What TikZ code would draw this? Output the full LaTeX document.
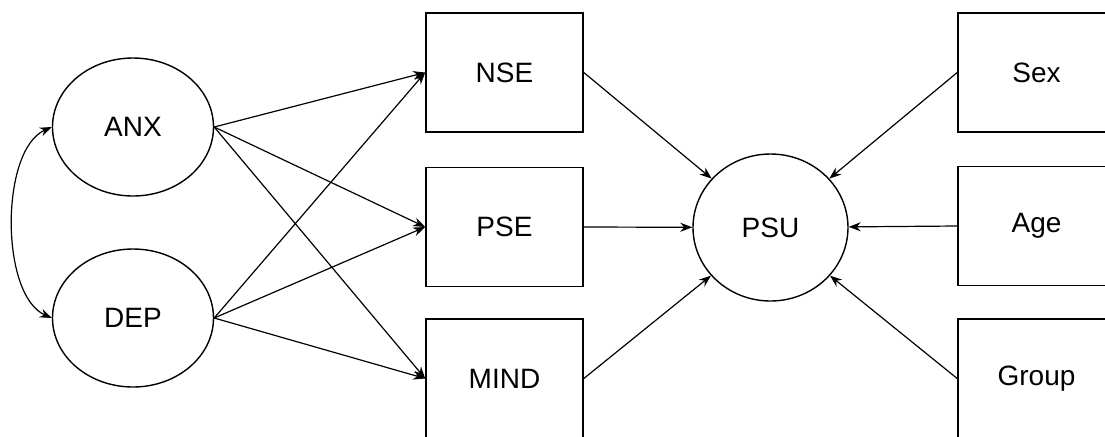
\documentclass[tikz,border=0pt]{standalone}
\usepackage{fontspec}
\setmainfont{Liberation Sans}
\usetikzlibrary{arrows.meta,shapes.geometric}
\begin{document}
\begin{tikzpicture}[x=0.5pt,y=-0.5pt,>={Stealth[length=6pt,width=4.5pt]},font=\fontsize{14}{16}\selectfont,
		obs/.style={draw,line width=0.8pt,minimum width=78.5pt,minimum height=59.5pt,inner sep=0pt},
		lat/.style={draw,ellipse,line width=0.7pt,minimum width=80.5pt,minimum height=69pt,inner sep=0pt},
		arr/.style={->,line width=0.6pt}]
			\clip (0,0) rectangle (1105,436);
			\node[lat] (anx) at (133,127) {ANX};
			\node[lat] (dep) at (133,318) {DEP};
			\node[obs] (nse) at (504.5,72.5) {NSE};
			\node[obs] (pse) at (504.5,227) {PSE};
			\node[obs] (mind) at (504.5,378.5) {MIND};
			\node[lat,minimum width=77.5pt,minimum height=73.5pt] (psu) at (770.5,227.5) {PSU};
			\node[obs] (sex) at (1036.5,72.5) {Sex};
			\node[obs] (age) at (1036.5,226) {Age};
			\node[obs] (group) at (1036.5,378.5) {Group};
			\draw[<->,line width=0.6pt] (anx.west) .. controls (0,150) and (0,295) .. (dep.west);
			\foreach \s in {anx,dep}
				\foreach \t in {nse,pse,mind}
					\draw[arr] (\s.east) -- (\t.west);
			\foreach \s in {nse,pse,mind}
				\draw[arr] (\s.east) -- (psu);
			\foreach \s in {sex,age,group}
				\draw[arr] (\s.west) -- (psu);
		\end{tikzpicture}
\end{document}
